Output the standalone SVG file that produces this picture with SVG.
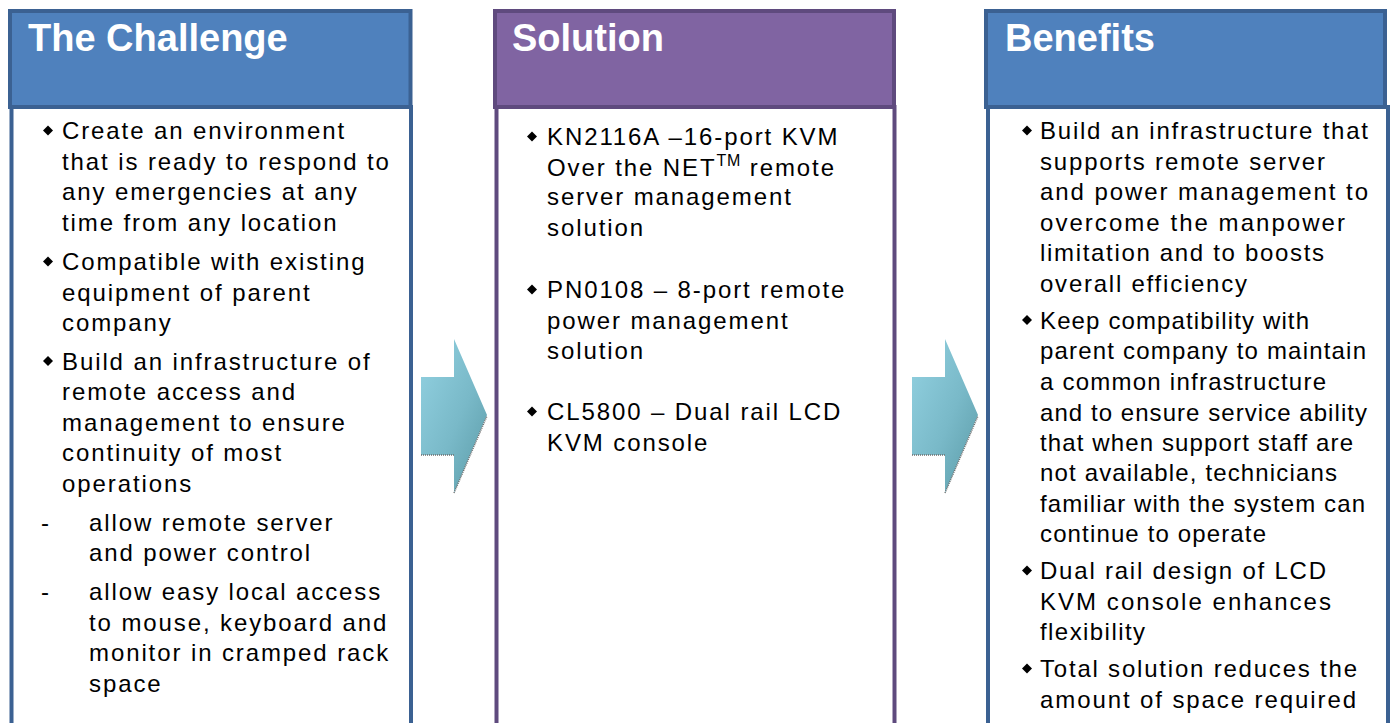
<svg xmlns="http://www.w3.org/2000/svg" width="1391" height="723" viewBox="0 0 1391 723">
<style>
.hb{fill:#4F81BD;stroke:#3B6192;stroke-width:4}
.hp{fill:#8064A2;stroke:#5F4A7E;stroke-width:4}
.bb{fill:#FFFFFF;stroke:#3B6192;stroke-width:4}
.bp{fill:#FFFFFF;stroke:#5F4A7E;stroke-width:4}
.title{font-family:"Liberation Sans",Arial,sans-serif;font-weight:bold;font-size:38px;fill:#FFFFFF}
.t{font-family:"Liberation Sans",Arial,sans-serif;font-size:24px;letter-spacing:1.9px;fill:#000000}
.r{font-family:"Liberation Sans",Arial,sans-serif;font-size:24px;letter-spacing:0px;fill:#000000}
.sup{font-size:16px;letter-spacing:0.8px}
.dot{fill:#000000}
.shadow{fill:none;stroke:#6E6E6E;stroke-width:1.5;stroke-dasharray:1 1}
</style>
<defs>
<linearGradient id="ag" x1="0" y1="0" x2="1" y2="1">
<stop offset="0" stop-color="#93D2E2"/>
<stop offset="0.55" stop-color="#79B9C8"/>
<stop offset="1" stop-color="#5A9AA6"/>
</linearGradient>
<path id="dia" d="M0,-5 L5,0 L0,5 L-5,0 Z"/>
</defs>
<rect width="1391" height="723" fill="#FFFFFF"/>

<g id="connectors">
<g id="arrow1">
<path d="M421,377 L454,377 L454,339 L487,415 L454,493 L454,455 L421,455 Z" fill="url(#ag)"/>
<path class="shadow" d="M421,455 L454,455 M454,493 L487,416"/>
</g>
<g id="arrow2">
<path d="M912,377 L945,377 L945,339 L978,415 L945,493 L945,455 L912,455 Z" fill="url(#ag)"/>
<path class="shadow" d="M912,455 L945,455 M945,493 L978,416"/>
</g>
</g>

<g id="challenge">
<rect class="bb" x="11.5" y="107" width="399.5" height="650"/>
<rect class="hb" x="10" y="11" width="400.5" height="96"/>
<text class="title" x="28" y="51">The Challenge</text>
<use href="#dia" x="48" y="130.5" class="dot"/>
<text class="t" x="62" y="139">Create an environment</text>
<text class="t" x="62" y="169.7">that is ready to respond to</text>
<text class="t" x="62" y="200.4">any emergencies at any</text>
<text class="t" x="62" y="231.1">time from any location</text>
<use href="#dia" x="48" y="261.5" class="dot"/>
<text class="t" x="62" y="270">Compatible with existing</text>
<text class="t" x="62" y="300.5">equipment of parent</text>
<text class="t" x="62" y="331">company</text>
<use href="#dia" x="48" y="361" class="dot"/>
<text class="t" x="62" y="369.5">Build an infrastructure of</text>
<text class="t" x="62" y="400">remote access and</text>
<text class="t" x="62" y="430.5">management to ensure</text>
<text class="t" x="62" y="461">continuity of most</text>
<text class="t" x="62" y="491.5">operations</text>
<text class="t" x="41" y="530.7">-</text>
<text class="t" x="89" y="530.7">allow remote server</text>
<text class="t" x="89" y="561.3">and power control</text>
<text class="t" x="41" y="600">-</text>
<text class="t" x="89" y="600">allow easy local access</text>
<text class="t" x="89" y="630.5">to mouse, keyboard and</text>
<text class="t" x="89" y="661">monitor in cramped rack</text>
<text class="t" x="89" y="692">space</text>
</g>

<g id="solution">
<rect class="bp" x="496.5" y="107" width="398" height="650"/>
<rect class="hp" x="495" y="11" width="399" height="96"/>
<text class="title" x="512" y="51">Solution</text>
<use href="#dia" x="532" y="136.5" class="dot"/>
<text class="t" x="547" y="145">KN2116A –16-port KVM</text>
<text class="t" x="547" y="175.7">Over the NET<tspan class="sup" dy="-10">TM</tspan><tspan dy="10"> remote</tspan></text>
<text class="t" x="547" y="205">server management</text>
<text class="t" x="547" y="235.5">solution</text>
<use href="#dia" x="532" y="289.5" class="dot"/>
<text class="t" x="547" y="298">PN0108 – 8-port remote</text>
<text class="t" x="547" y="328.5">power management</text>
<text class="t" x="547" y="359">solution</text>
<use href="#dia" x="532" y="411.5" class="dot"/>
<text class="t" x="547" y="420">CL5800 – Dual rail LCD</text>
<text class="t" x="547" y="450.5">KVM console</text>
</g>

<g id="benefits">
<rect class="bb" x="988" y="107" width="400" height="650"/>
<rect class="hb" x="986" y="11" width="399" height="96"/>
<text class="title" x="1005" y="51">Benefits</text>
<use href="#dia" x="1027" y="130.5" class="dot"/>
<text class="r" x="1040" y="138.5" textLength="328" lengthAdjust="spacing">Build an infrastructure that</text>
<text class="r" x="1040" y="169.5" textLength="285" lengthAdjust="spacing">supports remote server</text>
<text class="r" x="1040" y="200" textLength="328" lengthAdjust="spacing">and power management to</text>
<text class="r" x="1040" y="230.5" textLength="305" lengthAdjust="spacing">overcome the manpower</text>
<text class="r" x="1040" y="261.2" textLength="284" lengthAdjust="spacing">limitation and to boosts</text>
<text class="r" x="1040" y="291.5" textLength="207" lengthAdjust="spacing">overall efficiency</text>
<use href="#dia" x="1027" y="320" class="dot"/>
<text class="r" x="1040" y="328.5" textLength="269" lengthAdjust="spacing">Keep compatibility with</text>
<text class="r" x="1040" y="359.3" textLength="326" lengthAdjust="spacing">parent company to maintain</text>
<text class="r" x="1040" y="390" textLength="286" lengthAdjust="spacing">a common infrastructure</text>
<text class="r" x="1040" y="420.7" textLength="327" lengthAdjust="spacing">and to ensure service ability</text>
<text class="r" x="1040" y="451" textLength="313" lengthAdjust="spacing">that when support staff are</text>
<text class="r" x="1040" y="481.3" textLength="297" lengthAdjust="spacing">not available, technicians</text>
<text class="r" x="1040" y="511.7" textLength="325" lengthAdjust="spacing">familiar with the system can</text>
<text class="r" x="1040" y="542" textLength="226" lengthAdjust="spacing">continue to operate</text>
<use href="#dia" x="1027" y="570.5" class="dot"/>
<text class="r" x="1040" y="579" textLength="286" lengthAdjust="spacing">Dual rail design of LCD</text>
<text class="r" x="1040" y="609.5" textLength="291" lengthAdjust="spacing">KVM console enhances</text>
<text class="r" x="1040" y="640" textLength="105" lengthAdjust="spacing">flexibility</text>
<use href="#dia" x="1027" y="668.5" class="dot"/>
<text class="r" x="1040" y="677" textLength="317" lengthAdjust="spacing">Total solution reduces the</text>
<text class="r" x="1040" y="707.5" textLength="316" lengthAdjust="spacing">amount of space required</text>
</g>
</svg>
